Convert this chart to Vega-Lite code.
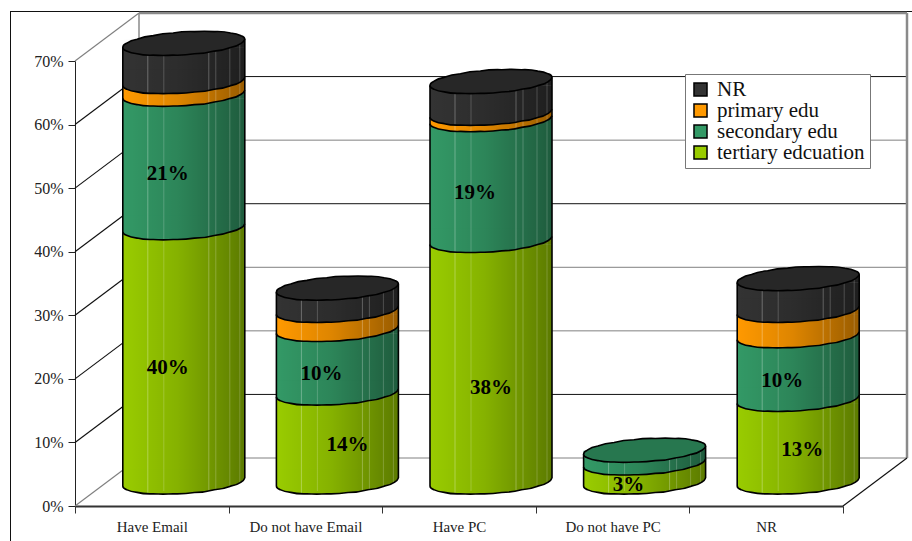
{
  "$schema": "https://vega.github.io/schema/vega-lite/v6.json",
  "autosize": "none",
  "padding": {"left": 75, "top": 61, "right": 69, "bottom": 35},
  "width": 768,
  "height": 445,
  "background": "white",
  "config": {"view": {"stroke": null}},
  "resolve": {"axis": {"x": "independent", "y": "independent"}},
  "datasets": {
    "walls": [
      {"level": 0}, {"level": 0.1}, {"level": 0.2}, {"level": 0.3},
      {"level": 0.4}, {"level": 0.5}, {"level": 0.6}, {"level": 0.7}
    ]
  },
  "data": {
    "values": [
      {"item": "Have Email", "series": "tertiary edcuation", "share": 0.40},
      {"item": "Have Email", "series": "secondary edu", "share": 0.21},
      {"item": "Have Email", "series": "primary edu", "share": 0.02},
      {"item": "Have Email", "series": "NR", "share": 0.06},
      {"item": "Do not have Email", "series": "tertiary edcuation", "share": 0.14},
      {"item": "Do not have Email", "series": "secondary edu", "share": 0.10},
      {"item": "Do not have Email", "series": "primary edu", "share": 0.03},
      {"item": "Do not have Email", "series": "NR", "share": 0.035},
      {"item": "Have PC", "series": "tertiary edcuation", "share": 0.38},
      {"item": "Have PC", "series": "secondary edu", "share": 0.19},
      {"item": "Have PC", "series": "primary edu", "share": 0.01},
      {"item": "Have PC", "series": "NR", "share": 0.05},
      {"item": "Do not have PC", "series": "tertiary edcuation", "share": 0.03},
      {"item": "Do not have PC", "series": "secondary edu", "share": 0.02},
      {"item": "NR", "series": "tertiary edcuation", "share": 0.13},
      {"item": "NR", "series": "secondary edu", "share": 0.10},
      {"item": "NR", "series": "primary edu", "share": 0.04},
      {"item": "NR", "series": "NR", "share": 0.05}
    ]
  },
  "transform": [
    {"stack": "share", "groupby": ["item"], "sort": [{"field": "series", "order": "descending"}], "as": ["yStart", "yEnd"]},
    {"joinaggregate": [{"op": "max", "field": "yEnd", "as": "total"}], "groupby": ["item"]}
  ],
  "encoding": {
    "x": {
      "field": "item", "type": "nominal", "title": null, "sort": null, "axis": null,
      "scale": {"type": "band", "domain": ["Have Email", "Do not have Email", "Have PC", "Do not have PC", "NR"], "paddingInner": 0, "paddingOuter": 0}
    },
    "y": {
      "field": "yStart", "type": "quantitative", "title": null, "axis": null,
      "scale": {"domain": [0, 0.7], "nice": false, "zero": true}
    }
  },
  "layer": [
    {
      "description": "page frame, left edge",
      "data": {"name": "walls"},
      "transform": [
        {"joinaggregate": [{"op": "max", "field": "level", "as": "top"}]},
        {"filter": "datum.level === 0"}
      ],
      "mark": {"type": "rule", "stroke": "#111", "strokeWidth": 1, "xOffset": -64.5, "x2Offset": -141.3, "yOffset": 36, "y2Offset": -50},
      "encoding": {
        "x": {"datum": "Have Email", "type": "nominal", "axis": null, "bandPosition": 0},
        "x2": {"datum": "Have Email"},
        "y": {"field": "level", "type": "quantitative", "axis": null},
        "y2": {"field": "top"}
      }
    },
    {
      "description": "page frame, top edge",
      "data": {"name": "walls"},
      "transform": [{"filter": "datum.level === 0.7"}],
      "mark": {"type": "rule", "stroke": "#111", "strokeWidth": 1, "xOffset": -65, "x2Offset": 145.8, "yOffset": -49.5, "y2Offset": -49.5},
      "encoding": {
        "x": {"datum": "Have Email", "type": "nominal", "axis": null, "bandPosition": 0},
        "x2": {"datum": "NR"},
        "y": {"field": "level", "type": "quantitative", "axis": null},
        "y2": {"field": "level"}
      }
    },
    {
      "description": "back wall gridlines",
      "data": {"name": "walls"},
      "transform": [{"filter": "datum.level < 0.7"}],
      "mark": {"type": "rule", "strokeWidth": 1, "xOffset": 64, "x2Offset": 140.8, "yOffset": -48, "y2Offset": -48},
      "encoding": {
        "x": {"datum": "Have Email", "type": "nominal", "axis": null, "bandPosition": 0},
        "x2": {"datum": "NR"},
        "y": {"field": "level", "type": "quantitative", "axis": null},
        "y2": {"field": "level"},
        "stroke": {"condition": {"test": "datum.level === 0.6 || datum.level === 0.4 || datum.level === 0.1", "value": "#111"}, "value": "#808080"}
      }
    },
    {
      "description": "back wall top edge",
      "data": {"name": "walls"},
      "transform": [{"filter": "datum.level === 0.7"}],
      "mark": {"type": "rule", "stroke": "#8a8a8a", "strokeWidth": 2.5, "xOffset": 64, "x2Offset": 140.8, "yOffset": -48, "y2Offset": -48},
      "encoding": {
        "x": {"datum": "Have Email", "type": "nominal", "axis": null, "bandPosition": 0},
        "x2": {"datum": "NR"},
        "y": {"field": "level", "type": "quantitative", "axis": null},
        "y2": {"field": "level"}
      }
    },
    {
      "description": "back wall left edge",
      "data": {"name": "walls"},
      "transform": [
        {"joinaggregate": [{"op": "max", "field": "level", "as": "top"}]},
        {"filter": "datum.level === 0"}
      ],
      "mark": {"type": "rule", "stroke": "#8a8a8a", "strokeWidth": 1.5, "xOffset": 64, "x2Offset": -12.8, "yOffset": -48, "y2Offset": -48},
      "encoding": {
        "x": {"datum": "Have Email", "type": "nominal", "axis": null, "bandPosition": 0},
        "x2": {"datum": "Have Email"},
        "y": {"field": "level", "type": "quantitative", "axis": null},
        "y2": {"field": "top"}
      }
    },
    {
      "description": "back wall right edge",
      "data": {"name": "walls"},
      "transform": [
        {"joinaggregate": [{"op": "max", "field": "level", "as": "top"}]},
        {"filter": "datum.level === 0"}
      ],
      "mark": {"type": "rule", "stroke": "#8a8a8a", "strokeWidth": 2.5, "xOffset": 64, "x2Offset": 140.8, "yOffset": -48, "y2Offset": -48},
      "encoding": {
        "x": {"datum": "NR", "type": "nominal", "axis": null, "bandPosition": 1},
        "x2": {"datum": "NR"},
        "y": {"field": "level", "type": "quantitative", "axis": null},
        "y2": {"field": "top"}
      }
    },
    {
      "description": "side wall lines running back from the value axis",
      "data": {"name": "walls"},
      "mark": {"type": "rule", "strokeWidth": 1.2, "x2Offset": -12.8, "y2Offset": -48},
      "encoding": {
        "x": {"datum": "Have Email", "type": "nominal", "axis": null, "bandPosition": 0},
        "x2": {"datum": "Have Email"},
        "y": {"field": "level", "type": "quantitative", "axis": null},
        "y2": {"field": "level"},
        "stroke": {"condition": {"test": "datum.level === 0 || datum.level === 0.7", "value": "#808080"}, "value": "#111"}
      }
    },
    {
      "description": "floor edge at the right",
      "data": {"name": "walls"},
      "transform": [{"filter": "datum.level === 0"}],
      "mark": {"type": "rule", "stroke": "#111", "strokeWidth": 1.2, "x2Offset": 140.8, "y2Offset": -48},
      "encoding": {
        "x": {"datum": "NR", "type": "nominal", "axis": null, "bandPosition": 1},
        "x2": {"datum": "NR"},
        "y": {"field": "level", "type": "quantitative", "axis": null},
        "y2": {"field": "level"}
      }
    },
    {
      "description": "cylinder bodies, one flat piece per segment, and the two axes",
      "mark": {"type": "bar", "size": 122, "xOffset": 32, "x2Offset": 32, "yOffset": -28, "y2Offset": -20},
      "encoding": {
        "x": {
          "field": "item", "type": "nominal", "title": null, "sort": null,
          "axis": {"labelAngle": 0, "tickBand": "extent", "tickSize": 7, "tickColor": "#333", "domainColor": "#333", "domainWidth": 2, "labelFont": "Liberation Serif", "labelFontSize": 15, "labelColor": "#222", "labelPadding": 6, "labelLimit": 200, "grid": false, "orient": "bottom"}
        },
        "y": {
          "field": "yStart", "type": "quantitative", "title": null,
          "axis": {"format": ".0%", "values": [0, 0.1, 0.2, 0.3, 0.4, 0.5, 0.6, 0.7], "tickSize": 7, "tickColor": "#222", "domainColor": "#222", "labelFont": "Liberation Serif", "labelFontSize": 16, "labelColor": "#222", "labelPadding": 5, "grid": false, "orient": "left"}
        },
        "y2": {"field": "yEnd"},
        "color": {
          "field": "series", "type": "nominal", "title": null,
          "scale": {"domain": ["NR", "primary edu", "secondary edu", "tertiary edcuation"], "range": ["#333333", "#ff9900", "#339966", "#99cc00"]},
          "legend": {"orient": "none", "legendX": 610, "legendY": 13, "fillColor": "white", "strokeColor": "#777", "padding": 5, "labelFont": "Liberation Serif", "labelFontSize": 21, "labelColor": "#111", "labelOffset": 6, "symbolType": "square", "symbolSize": 170, "symbolStrokeColor": "#000", "symbolStrokeWidth": 1.5, "rowPadding": -3.5, "labelLimit": 200}
        }
      }
    },
    {
      "description": "collar under each segment's rim so it reaches the tilted edge",
      "mark": {"type": "point", "filled": true, "opacity": 1, "size": 14884, "xOffset": 32, "yOffset": -24, "strokeWidth": 0,
        "shape": "M1,-.066 L1,.07 L-1,.07 L-1,.066 L0,0 Z"},
      "encoding": {
        "y": {"field": "yEnd", "type": "quantitative", "axis": null},
        "color": {"field": "series", "type": "nominal", "title": null}
      }
    },
    {
      "description": "rounded lower rim of each segment, painted bottom to top",
      "mark": {"type": "point", "filled": true, "opacity": 1, "size": 14884, "xOffset": 32, "yOffset": -24, "strokeWidth": 0,
        "shape": "M1,-.066 Q.985,-.025 .94,.001 Q.87,.05 .766,.068 Q.65,.115 .5,.127 Q.35,.17 .174,.171 Q0,.2 -.174,.193 Q-.34,.205 -.5,.193 Q-.65,.2 -.766,.17 Q-.87,.16 -.94,.125 Q-1,.105 -1,.066 L-1,-.2 L1,-.2 Z"},
      "encoding": {
        "color": {"field": "series", "type": "nominal", "title": null}
      }
    },
    {
      "description": "left-to-right shading over each whole cylinder",
      "transform": [{"filter": "datum.yEnd === datum.total"}],
      "mark": {"type": "bar", "size": 122, "xOffset": 32, "x2Offset": 32, "yOffset": -28, "y2Offset": -28,
        "color": {"gradient": "linear", "x1": 0, "x2": 1, "y1": 0, "y2": 0, "stops": [{"offset": 0, "color": "rgba(0,0,0,0)"}, {"offset": 0.45, "color": "rgba(0,0,0,0.13)"}, {"offset": 1, "color": "rgba(0,0,0,0.4)"}]}},
      "encoding": {
        "y": {"datum": 0, "type": "quantitative", "axis": null},
        "y2": {"field": "total"}
      }
    },
    {
      "description": "same shading on the rounded foot of each cylinder",
      "transform": [{"filter": "datum.yEnd === datum.total"}],
      "mark": {"type": "point", "filled": true, "opacity": 1, "size": 14884, "xOffset": 32, "yOffset": -24, "strokeWidth": 0,
        "shape": "M1,-.066 Q.985,-.025 .94,.001 Q.87,.05 .766,.068 Q.65,.115 .5,.127 Q.35,.17 .174,.171 Q0,.2 -.174,.193 Q-.34,.205 -.5,.193 Q-.65,.2 -.766,.17 Q-.87,.16 -.94,.125 Q-1,.105 -1,.066 L-1,-.066 Z",
        "color": {"gradient": "linear", "x1": 0, "x2": 1, "y1": 0, "y2": 0, "stops": [{"offset": 0, "color": "rgba(0,0,0,0)"}, {"offset": 0.45, "color": "rgba(0,0,0,0.13)"}, {"offset": 1, "color": "rgba(0,0,0,0.4)"}]}},
      "encoding": {
        "y": {"datum": 0, "type": "quantitative", "axis": null}
      }
    },
    {
      "description": "facet seams",
      "transform": [{"filter": "datum.yEnd === datum.total"}],
      "mark": {"type": "rule", "stroke": "rgba(255,255,255,0.2)", "strokeWidth": 1, "xOffset": 12, "yOffset": -15, "y2Offset": -24},
      "encoding": {"y": {"datum": 0, "type": "quantitative", "axis": null}, "y2": {"field": "total"}}
    },
    {
      "transform": [{"filter": "datum.yEnd === datum.total"}],
      "mark": {"type": "rule", "stroke": "rgba(255,255,255,0.3)", "strokeWidth": 1, "xOffset": -4, "yOffset": -13, "y2Offset": -24},
      "encoding": {"y": {"datum": 0, "type": "quantitative", "axis": null}, "y2": {"field": "total"}}
    },
    {
      "transform": [{"filter": "datum.yEnd === datum.total"}],
      "mark": {"type": "rule", "stroke": "rgba(255,255,255,0.28)", "strokeWidth": 1, "xOffset": 57, "yOffset": -16, "y2Offset": -24},
      "encoding": {"y": {"datum": 0, "type": "quantitative", "axis": null}, "y2": {"field": "total"}}
    },
    {
      "transform": [{"filter": "datum.yEnd === datum.total"}],
      "mark": {"type": "rule", "stroke": "rgba(255,255,255,0.22)", "strokeWidth": 1, "xOffset": 64, "yOffset": -17, "y2Offset": -24},
      "encoding": {"y": {"datum": 0, "type": "quantitative", "axis": null}, "y2": {"field": "total"}}
    },
    {
      "transform": [{"filter": "datum.yEnd === datum.total"}],
      "mark": {"type": "rule", "stroke": "rgba(255,255,255,0.2)", "strokeWidth": 1, "xOffset": 78, "yOffset": -20, "y2Offset": -26},
      "encoding": {"y": {"datum": 0, "type": "quantitative", "axis": null}, "y2": {"field": "total"}}
    },
    {
      "transform": [{"filter": "datum.yEnd === datum.total"}],
      "mark": {"type": "rule", "stroke": "rgba(255,255,255,0.2)", "strokeWidth": 1, "xOffset": 88, "yOffset": -23, "y2Offset": -27},
      "encoding": {"y": {"datum": 0, "type": "quantitative", "axis": null}, "y2": {"field": "total"}}
    },
    {
      "description": "segment boundaries and cylinder foot",
      "mark": {"type": "point", "filled": false, "fill": null, "stroke": "#000", "opacity": 1, "strokeWidth": 1.6, "size": 14884, "xOffset": 32, "yOffset": -24,
        "shape": "M1,-.066 Q.985,-.025 .94,.001 Q.87,.05 .766,.068 Q.65,.115 .5,.127 Q.35,.17 .174,.171 Q0,.2 -.174,.193 Q-.34,.205 -.5,.193 Q-.65,.2 -.766,.17 Q-.87,.16 -.94,.125 Q-1,.105 -1,.066"}
    },
    {
      "description": "cylinder left side",
      "transform": [{"filter": "datum.yEnd === datum.total"}],
      "mark": {"type": "rule", "stroke": "#000", "strokeWidth": 1.6, "xOffset": -29, "yOffset": -20, "y2Offset": -20},
      "encoding": {"y": {"datum": 0, "type": "quantitative", "axis": null}, "y2": {"field": "total"}}
    },
    {
      "description": "cylinder right side",
      "transform": [{"filter": "datum.yEnd === datum.total"}],
      "mark": {"type": "rule", "stroke": "#000", "strokeWidth": 1.6, "xOffset": 93, "yOffset": -28, "y2Offset": -28},
      "encoding": {"y": {"datum": 0, "type": "quantitative", "axis": null}, "y2": {"field": "total"}}
    },
    {
      "description": "cylinder lid in the colour of its top segment",
      "transform": [{"filter": "datum.yEnd === datum.total"}],
      "mark": {"type": "point", "filled": true, "opacity": 1, "size": 14884, "xOffset": 32, "yOffset": -24, "strokeWidth": 0,
        "shape": "M1,-.066 Q.985,-.025 .94,.001 Q.87,.05 .766,.068 Q.65,.115 .5,.127 Q.35,.17 .174,.171 Q0,.2 -.174,.193 Q-.34,.205 -.5,.193 Q-.65,.2 -.766,.17 Q-.87,.16 -.94,.125 Q-1,.105 -1,.066 Q-1,.025 -.94,-.001 Q-.87,-.05 -.766,-.068 Q-.65,-.115 -.5,-.127 Q-.35,-.17 -.174,-.171 Q0,-.2 .174,-.193 Q.34,-.205 .5,-.193 Q.65,-.2 .766,-.17 Q.87,-.16 .94,-.125 Q1,-.105 1,-.066 Z"},
      "encoding": {
        "y": {"field": "yEnd", "type": "quantitative", "axis": null},
        "color": {"field": "series", "type": "nominal", "title": null}
      }
    },
    {
      "description": "lid darkening and outline",
      "transform": [{"filter": "datum.yEnd === datum.total"}],
      "mark": {"type": "point", "filled": true, "fill": "rgba(0,0,0,0.22)", "stroke": "#000", "opacity": 1, "strokeWidth": 1.6, "size": 14884, "xOffset": 32, "yOffset": -24,
        "shape": "M1,-.066 Q.985,-.025 .94,.001 Q.87,.05 .766,.068 Q.65,.115 .5,.127 Q.35,.17 .174,.171 Q0,.2 -.174,.193 Q-.34,.205 -.5,.193 Q-.65,.2 -.766,.17 Q-.87,.16 -.94,.125 Q-1,.105 -1,.066 Q-1,.025 -.94,-.001 Q-.87,-.05 -.766,-.068 Q-.65,-.115 -.5,-.127 Q-.35,-.17 -.174,-.171 Q0,-.2 .174,-.193 Q.34,-.205 .5,-.193 Q.65,-.2 .766,-.17 Q.87,-.16 .94,-.125 Q1,-.105 1,-.066 Z"},
      "encoding": {"y": {"field": "yEnd", "type": "quantitative", "axis": null}}
    },
    {
      "description": "value labels left of the cylinder middle",
      "transform": [
        {"filter": "(datum.series === 'tertiary edcuation' || (datum.series === 'secondary edu' && datum.item !== 'Do not have PC')) && !(datum.series === 'tertiary edcuation' && (datum.item === 'Do not have Email' || datum.item === 'Have PC' || datum.item === 'NR'))"},
        {"fold": ["yStart", "yEnd"], "as": ["edge", "pos"]},
        {"aggregate": [{"op": "mean", "field": "pos", "as": "mid"}], "groupby": ["item", "series", "share"]}
      ],
      "mark": {"type": "text", "font": "Liberation Serif", "fontWeight": "bold", "fontSize": 21, "color": "#000", "dx": 16, "dy": -11, "baseline": "middle"},
      "encoding": {
        "y": {"field": "mid", "type": "quantitative", "axis": null},
        "text": {"field": "share", "type": "quantitative", "format": ".0%"}
      }
    },
    {
      "transform": [
        {"filter": "datum.series === 'tertiary edcuation' && datum.item === 'Do not have Email'"},
        {"fold": ["yStart", "yEnd"], "as": ["edge", "pos"]},
        {"aggregate": [{"op": "mean", "field": "pos", "as": "mid"}], "groupby": ["item", "series", "share"]}
      ],
      "mark": {"type": "text", "font": "Liberation Serif", "fontWeight": "bold", "fontSize": 21, "color": "#000", "dx": 42, "dy": -17, "baseline": "middle"},
      "encoding": {
        "y": {"field": "mid", "type": "quantitative", "axis": null},
        "text": {"field": "share", "type": "quantitative", "format": ".0%"}
      }
    },
    {
      "transform": [
        {"filter": "datum.series === 'tertiary edcuation' && datum.item === 'Have PC'"},
        {"fold": ["yStart", "yEnd"], "as": ["edge", "pos"]},
        {"aggregate": [{"op": "mean", "field": "pos", "as": "mid"}], "groupby": ["item", "series", "share"]}
      ],
      "mark": {"type": "text", "font": "Liberation Serif", "fontWeight": "bold", "fontSize": 21, "color": "#000", "dx": 32, "dy": 3, "baseline": "middle"},
      "encoding": {
        "y": {"field": "mid", "type": "quantitative", "axis": null},
        "text": {"field": "share", "type": "quantitative", "format": ".0%"}
      }
    },
    {
      "transform": [
        {"filter": "datum.series === 'tertiary edcuation' && datum.item === 'NR'"},
        {"fold": ["yStart", "yEnd"], "as": ["edge", "pos"]},
        {"aggregate": [{"op": "mean", "field": "pos", "as": "mid"}], "groupby": ["item", "series", "share"]}
      ],
      "mark": {"type": "text", "font": "Liberation Serif", "fontWeight": "bold", "fontSize": 21, "color": "#000", "dx": 36, "dy": -15, "baseline": "middle"},
      "encoding": {
        "y": {"field": "mid", "type": "quantitative", "axis": null},
        "text": {"field": "share", "type": "quantitative", "format": ".0%"}
      }
    }
  ]
}
